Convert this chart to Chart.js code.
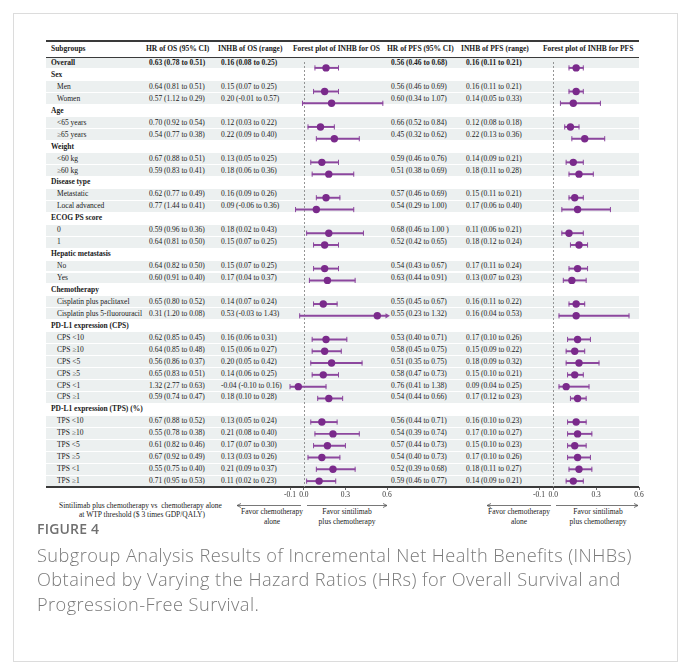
<!DOCTYPE html>
<html>
<head>
<meta charset="utf-8">
<script src="https://cdn.jsdelivr.net/npm/chart.js@4/dist/chart.umd.min.js"></script>
<style>
  body { margin: 0; width: 678px; height: 663px; background: #fff; position: relative; overflow: hidden; }
  #frame { position: absolute; left: 13px; top: 13px; width: 663px; height: 647px; border: 1px solid #dcdcdc; }
  .t { position: absolute; font-family: "Liberation Serif", "Times New Roman", serif; font-size: 7.5px; color: #1a1a1a; white-space: nowrap; }
  .b { font-weight: bold; }
  .shade { position: absolute; left: 46px; width: 593px; background: #ecf0f0; }
  .rule { position: absolute; left: 46px; width: 593px; background: #3a3a3a; }
  canvas { position: absolute; }
  #fig { position: absolute; left: 37px; top: 519px; font-family: "Open Sans", sans-serif; font-size: 14px; font-weight: 600; color: #707070; letter-spacing: 0.2px; }
  #cap { position: absolute; left: 37px; top: 543px; white-space: nowrap; font-family: "Open Sans", sans-serif; font-size: 18.2px; font-weight: 300; letter-spacing: 0.44px; line-height: 24.3px; color: #7a7a7a; }
  svg { position: absolute; left: 0; top: 0; }
</style>
</head>
<body>
<div id="frame"></div>
<div id="tbl"></div>
<canvas id="osChart" width="137" height="470" style="left:270px; top:57px; width:137px; height:470px"></canvas>
<canvas id="pfsChart" width="140" height="470" style="left:519px; top:57px; width:140px; height:470px"></canvas>
<svg width="678" height="663">
  <g stroke="#555" stroke-width="0.8" fill="none">
    <line x1="237" y1="505.5" x2="301" y2="505.5"/><polyline points="241,503.5 237,505.5 241,507.5"/>
    <line x1="307" y1="505.5" x2="387" y2="505.5"/><polyline points="383,503.5 387,505.5 383,507.5"/>
    <line x1="487" y1="505.5" x2="551" y2="505.5"/><polyline points="491,503.5 487,505.5 491,507.5"/>
    <line x1="556" y1="505.5" x2="638" y2="505.5"/><polyline points="634,503.5 638,505.5 634,507.5"/>
  </g>
</svg>
<div id="fig">FIGURE 4</div>
<div id="cap">Subgroup Analysis Results of Incremental Net Health Benefits (INHBs)<br>Obtained by Varying the Hazard Ratios (HRs) for Overall Survival and<br>Progression-Free Survival.</div>

<script>
// rows of the table (o = overall, g = group heading, s = subgroup)
const subgroups = ["Overall", "Sex", "Men", "Women", "Age", "<65 years", "≥65 years",
  "Weight", "<60 kg", "≥60 kg", "Disease type", "Metastatic", "Local advanced",
  "ECOG PS score", "0", "1", "Hepatic metastasis", "No", "Yes",
  "Chemotherapy", "Cisplatin plus paclitaxel", "Cisplatin plus 5-fluorouracil",
  "PD-L1 expression (CPS)", "CPS <10", "CPS ≥10", "CPS <5", "CPS ≥5", "CPS <1", "CPS ≥1",
  "PD-L1 expression (TPS) (%)", "TPS <10", "TPS ≥10", "TPS <5", "TPS ≥5", "TPS <1", "TPS ≥1"];
const rowKind = ["o", "g", "s", "s", "g", "s", "s", "g", "s", "s", "g", "s", "s",
  "g", "s", "s", "g", "s", "s", "g", "s", "s",
  "g", "s", "s", "s", "s", "s", "s", "g", "s", "s", "s", "s", "s", "s"];

// OS
const osHR = ["0.63 (0.78 to 0.51)", null, "0.64 (0.81 to 0.51)", "0.57 (1.12 to 0.29)", null,
  "0.70 (0.92 to 0.54)", "0.54 (0.77 to 0.38)", null, "0.67 (0.88 to 0.51)", "0.59 (0.83 to 0.41)", null,
  "0.62 (0.77 to 0.49)", "0.77 (1.44 to 0.41)", null, "0.59 (0.96 to 0.36)", "0.64 (0.81 to 0.50)", null,
  "0.64 (0.82 to 0.50)", "0.60 (0.91 to 0.40)", null, "0.65 (0.80 to 0.52)", "0.31 (1.20 to 0.08)", null,
  "0.62 (0.85 to 0.45)", "0.64 (0.85 to 0.48)", "0.56 (0.86 to 0.37)", "0.65 (0.83 to 0.51)",
  "1.32 (2.77 to 0.63)", "0.59 (0.74 to 0.47)", null,
  "0.67 (0.88 to 0.52)", "0.55 (0.78 to 0.38)", "0.61 (0.82 to 0.46)", "0.67 (0.92 to 0.49)",
  "0.55 (0.75 to 0.40)", "0.71 (0.95 to 0.53)"];
const osInhb = [0.16, null, 0.15, 0.20, null, 0.12, 0.22, null, 0.13, 0.18, null, 0.16, 0.09,
  null, 0.18, 0.15, null, 0.15, 0.17, null, 0.14, 0.53, null, 0.16, 0.15, 0.20, 0.14, -0.04, 0.18,
  null, 0.13, 0.21, 0.17, 0.13, 0.21, 0.11];
const osLo = [0.08, null, 0.07, -0.01, null, 0.03, 0.09, null, 0.05, 0.06, null, 0.09, -0.06,
  null, 0.02, 0.07, null, 0.07, 0.04, null, 0.07, -0.03, null, 0.06, 0.06, 0.05, 0.06, -0.10, 0.10,
  null, 0.05, 0.08, 0.07, 0.03, 0.09, 0.02];
const osHi = [0.25, null, 0.25, 0.57, null, 0.22, 0.40, null, 0.25, 0.36, null, 0.26, 0.36,
  null, 0.43, 0.25, null, 0.25, 0.37, null, 0.24, 1.43, null, 0.31, 0.27, 0.42, 0.25, 0.16, 0.28,
  null, 0.24, 0.40, 0.30, 0.26, 0.37, 0.23];

// PFS
const pfsHR = ["0.56 (0.46 to 0.68)", null, "0.56 (0.46 to 0.69)", "0.60 (0.34 to 1.07)", null,
  "0.66 (0.52 to 0.84)", "0.45 (0.32 to 0.62)", null, "0.59 (0.46 to 0.76)", "0.51 (0.38 to 0.69)", null,
  "0.57 (0.46 to 0.69)", "0.54 (0.29 to 1.00)", null, "0.68 (0.46 to 1.00 )", "0.52 (0.42 to 0.65)", null,
  "0.54 (0.43 to 0.67)", "0.63 (0.44 to 0.91)", null, "0.55 (0.45 to 0.67)", "0.55 (0.23 to 1.32)", null,
  "0.53 (0.40 to 0.71)", "0.58 (0.45 to 0.75)", "0.51 (0.35 to 0.75)", "0.58 (0.47 to 0.73)",
  "0.76 (0.41 to 1.38)", "0.54 (0.44 to 0.66)", null,
  "0.56 (0.44 to 0.71)", "0.54 (0.39 to 0.74)", "0.57 (0.44 to 0.73)", "0.54 (0.40 to 0.73)",
  "0.52 (0.39 to 0.68)", "0.59 (0.46 to 0.77)"];
const pfsInhb = [0.16, null, 0.16, 0.14, null, 0.12, 0.22, null, 0.14, 0.18, null, 0.15, 0.17,
  null, 0.11, 0.18, null, 0.17, 0.13, null, 0.16, 0.16, null, 0.17, 0.15, 0.18, 0.15, 0.09, 0.17,
  null, 0.16, 0.17, 0.15, 0.17, 0.18, 0.14];
const pfsLo = [0.11, null, 0.11, 0.05, null, 0.08, 0.13, null, 0.09, 0.11, null, 0.11, 0.06,
  null, 0.06, 0.12, null, 0.11, 0.07, null, 0.11, 0.04, null, 0.10, 0.09, 0.09, 0.10, 0.04, 0.12,
  null, 0.10, 0.10, 0.10, 0.10, 0.11, 0.09];
const pfsHi = [0.21, null, 0.21, 0.33, null, 0.18, 0.36, null, 0.21, 0.28, null, 0.21, 0.40,
  null, 0.21, 0.24, null, 0.24, 0.23, null, 0.22, 0.53, null, 0.26, 0.22, 0.32, 0.21, 0.25, 0.23,
  null, 0.23, 0.27, 0.23, 0.26, 0.27, 0.21];

const xTicks = [-0.1, 0, 0.3, 0.6];
const X_MIN = -0.1, X_MAX = 0.6;

const ROW_TOP = 57, ROW_H = 430 / 36;
const tbl = document.getElementById("tbl");

function addText(txt, x, y, cls, h) {
  const d = document.createElement("div");
  d.className = "t " + (cls || "");
  d.textContent = txt;
  d.style.left = x + "px";
  d.style.top = y + "px";
  if (h) { d.style.height = h + "px"; d.style.lineHeight = h + "px"; }
  tbl.appendChild(d);
  return d;
}
function addBox(cls, top, h) {
  const d = document.createElement("div");
  d.className = cls;
  d.style.top = top + "px";
  d.style.height = h + "px";
  tbl.appendChild(d);
}
const fmt = (e, l, h) => `${e.toFixed(2)} (${l.toFixed(2)} to ${h.toFixed(2)})`;

// header
addBox("rule", 40.3, 1.5);
addBox("rule", 56.6, 0.9);
const headY = 43, headH = 12;
addText("Subgroups", 51, headY, "b", headH);
addText("HR of OS (95% CI)", 146, headY, "b", headH);
addText("INHB of OS (range)", 218, headY, "b", headH);
addText("Forest plot of INHB for OS", 293, headY, "b", headH);
addText("HR of PFS (95% CI)", 387, headY, "b", headH);
addText("INHB of PFS (range)", 461, headY, "b", headH);
addText("Forest plot of INHB for PFS", 543, headY, "b", headH);

subgroups.forEach((name, i) => {
  const top = ROW_TOP + i * ROW_H;
  const kind = rowKind[i];
  if (kind !== "g") addBox("shade", top + 0.5, ROW_H - 1);
  const bold = kind !== "s" ? "b" : "";
  addText(name, kind === "s" ? 57 : 51, top, bold, ROW_H);
  if (osInhb[i] != null) {
    const vb = kind === "o" ? "b" : "";
    addText(osHR[i], 149, top, vb, ROW_H);
    addText(fmt(osInhb[i], osLo[i], osHi[i]), 221, top, vb, ROW_H);
    addText(pfsHR[i], 391, top, vb, ROW_H);
    addText(fmt(pfsInhb[i], pfsLo[i], pfsHi[i]), 466, top, vb, ROW_H);
  }
});
addBox("rule", 486.3, 1.6);

// bottom notes
let n = addText("Sintilimab plus chemotherapy vs  chemotherapy alone", 59, 501);
n.style.whiteSpace = "pre";
addText("at WTP threshold ($ 3 times GDP/QALY)", 79, 510);
const notes = [["Favor chemotherapy", 272, 507], ["alone", 272, 516.5],
  ["Favor sintilimab", 347, 507], ["plus chemotherapy", 347, 516.5],
  ["Favor chemotherapy", 519, 507], ["alone", 519, 516.5],
  ["Favor sintilimab", 598, 507], ["plus chemotherapy", 598, 516.5]];
notes.forEach(([txt, cx, y]) => {
  const d = addText(txt, cx, y);
  d.style.transform = "translateX(-50%)";
});

// dashed line at zero
const zeroLine = {
  id: "zeroLine",
  beforeDatasetsDraw(chart) {
    const { ctx, chartArea, scales } = chart;
    const px = Math.round(scales.x.getPixelForValue(0)) + 0.5;
    ctx.save();
    ctx.setLineDash([2, 2]);
    ctx.strokeStyle = "#8a8a8a";
    ctx.lineWidth = 0.9;
    ctx.beginPath();
    ctx.moveTo(px, chartArea.top);
    ctx.lineTo(px, chartArea.bottom);
    ctx.stroke();
    ctx.restore();
  }
};

const dotColor = "#7a2a8b";
const barColor = "#8c479e";

function forestChart(id, est, lo, hi) {
  const capHi = hi.map(v => (v != null && v <= X_MAX ? v : null));
  const arrowAt = hi.map(v => (v != null && v > X_MAX ? X_MAX : null));
  const ranges = lo.map((v, i) => (v == null ? null : [v, Math.min(hi[i], X_MAX)]));
  const pointSet = (data, extra) => Object.assign({
    type: "line", indexAxis: "y", data, showLine: false, clip: false,
    pointBorderWidth: 0, pointBackgroundColor: dotColor, pointBorderColor: barColor
  }, extra);

  return new Chart(document.getElementById(id), {
    type: "bar",
    data: {
      labels: subgroups,
      datasets: [
        pointSet(est, { pointRadius: 3.7, order: 0 }),
        pointSet(lo, { pointStyle: "line", rotation: 90, pointRadius: 2.6, pointBorderWidth: 1, order: 1 }),
        pointSet(capHi, { pointStyle: "line", rotation: 90, pointRadius: 2.6, pointBorderWidth: 1, order: 1 }),
        pointSet(arrowAt, { pointStyle: "triangle", rotation: 90, pointRadius: 3, pointBackgroundColor: barColor, order: 1 }),
        { type: "bar", indexAxis: "y", data: ranges, backgroundColor: barColor, borderWidth: 0, barThickness: 1.3, order: 2 }
      ]
    },
    options: {
      indexAxis: "y",
      responsive: false,
      animation: false,
      events: [],
      layout: { padding: { left: 20, right: 20, top: 0, bottom: 0 } },
      plugins: { legend: { display: false }, tooltip: { enabled: false } },
      scales: {
        y: { type: "category", display: false, offset: true },
        x: {
          type: "linear",
          min: X_MIN,
          max: X_MAX,
          afterBuildTicks: s => { s.ticks = xTicks.map(v => ({ value: v })); },
          afterFit: s => { s.height = 40; },
          border: { display: false },
          grid: { drawOnChartArea: false, drawTicks: true, tickLength: 3, color: "#444", lineWidth: 0.8 },
          ticks: {
            autoSkip: false, maxRotation: 0, padding: 1, color: "#333",
            font: { family: "Liberation Serif", size: 7.5 },
            callback: v => v.toFixed(1)
          }
        }
      }
    },
    plugins: [zeroLine]
  });
}

forestChart("osChart", osInhb, osLo, osHi);
forestChart("pfsChart", pfsInhb, pfsLo, pfsHi);
</script>
</body>
</html>
